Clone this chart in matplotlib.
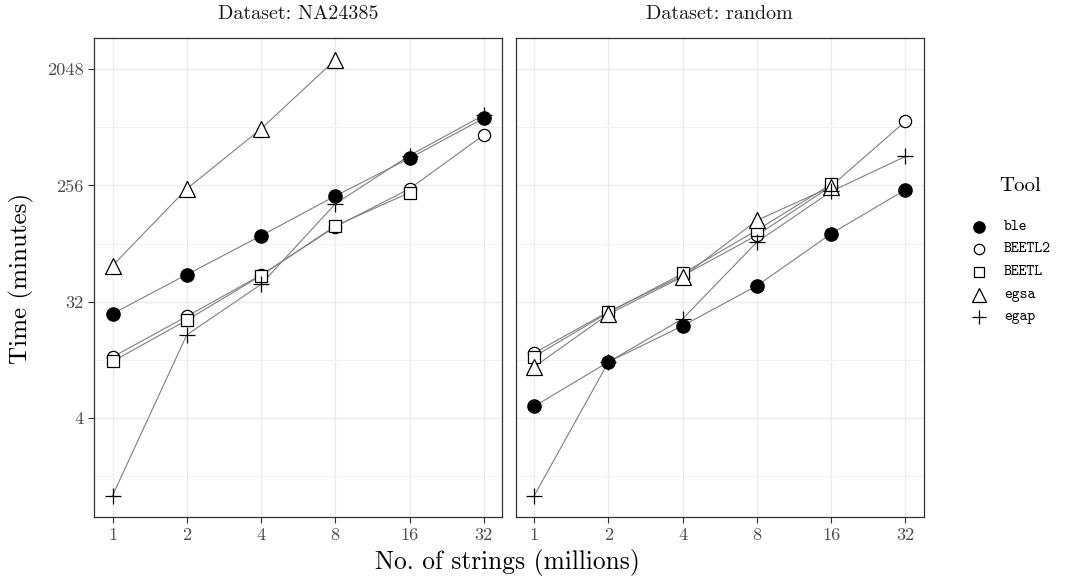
import numpy as np
import matplotlib
matplotlib.use("Agg")
import matplotlib.pyplot as plt

plt.rcParams['font.family'] = ['cmr10', 'DejaVu Serif']
plt.rcParams['axes.formatter.use_mathtext'] = True

# ---- data ----
x_vals = [1, 2, 4, 8, 16, 32]
tools = ['ble', 'BEETL2', 'BEETL', 'egsa', 'egap']
datasets = ['NA24385', 'random']

na_ble    = [25.8, 52, 104, 212, 416, 850]
na_beetl2 = [11.9, 24.6, 51.6, 122, 241, 630]
na_beetl  = [11.0, 23, 51, 124, 225]
na_egsa   = [61, 241, 703, 2420]
na_egap   = [1.0, 17.7, 43.6, 184, 437, 900]

rnd_ble    = [4.93, 10.9, 20.8, 42.6, 108, 237]
rnd_beetl2 = [12.8, 26.8, 51, 105, 253, 806]
rnd_beetl  = [12.0, 26.4, 53, 115, 261]
rnd_egsa   = [10.0, 25.6, 50, 137, 250]
rnd_egap   = [1.0, 10.9, 23.6, 93, 230, 430]

series = {
    'NA24385': [na_ble, na_beetl2, na_beetl, na_egsa, na_egap],
    'random':  [rnd_ble, rnd_beetl2, rnd_beetl, rnd_egsa, rnd_egap],
}

y_ticks = [4, 32, 256, 2048]
x_ticks = [1, 2, 4, 8, 16, 32]

# ---- styles ----
markers = {
    'ble':    dict(marker='o', mfc='black', mec='black', ms=9.5),
    'BEETL2': dict(marker='o', mfc='white', mec='black', ms=8.8, mew=0.9),
    'BEETL':  dict(marker='s', mfc='white', mec='black', ms=8.0, mew=0.9),
    'egsa':   dict(marker='^', mfc='white', mec='black', ms=11.5, mew=0.9),
    'egap':   dict(marker='+', mfc='none', mec='black', ms=12.0, mew=0.9),
}

W, H = 1076, 576
fig = plt.figure(figsize=(W / 100, H / 100), dpi=100)

def frac(l, t, r, b):
    return [l / W, 1 - b / H, (r - l) / W, (b - t) / H]

panel_px = [(94, 38, 502.3, 517.3), (515.7, 38, 924, 517.3)]

all_vals = [v for d in datasets for s in series[d] for v in s]
lmin, lmax = np.log2(min(all_vals)), np.log2(max(all_vals))
pad = 0.05 * (lmax - lmin)
ylim = (2 ** (lmin - pad), 2 ** (lmax + pad))
xl = np.log2(x_ticks)
xpad = 0.05 * (xl.max() - xl.min())
xlim = (2 ** (xl.min() - xpad), 2 ** (xl.max() + xpad))

grid_c = '#EBEBEB'
for i, (ds, px) in enumerate(zip(datasets, panel_px)):
    ax = fig.add_axes(frac(*px))
    ax.set_xscale('log', base=2)
    ax.set_yscale('log', base=2)
    ax.set_xlim(*xlim)
    ax.set_ylim(*ylim)
    for t in x_ticks:
        ax.axvline(t, color=grid_c, lw=1.0, zorder=0)
    for t in y_ticks:
        ax.axhline(t, color=grid_c, lw=1.0, zorder=0)
    ly = np.log2(y_ticks)
    minors = [2 ** (ly[0] - 1.5)] + [2 ** ((a + b) / 2) for a, b in zip(ly[:-1], ly[1:])]
    for t in minors:
        ax.axhline(t, color='#F2F2F2', lw=0.7, zorder=0)
    for tool, vals in zip(tools, series[ds]):
        xs = x_vals[:len(vals)]
        ax.plot(xs, vals, color='#7F7F7F', lw=0.8, zorder=2)
        ax.plot(xs, vals, ls='none', zorder=3, **markers[tool])
    ax.set_xticks(x_ticks)
    ax.set_xticklabels([str(t) for t in x_ticks])
    ax.minorticks_off()
    ax.set_yticks(y_ticks)
    ax.tick_params(axis='both', which='major', labelsize=13.2, colors='#333333',
                   labelcolor='#4D4D4D', length=4.5, width=0.8, pad=3)
    if i == 0:
        ax.set_yticklabels([str(t) for t in y_ticks])
    else:
        ax.set_yticklabels([])
        ax.tick_params(axis='y', length=0)
    for s in ax.spines.values():
        s.set_color('#333333')
        s.set_linewidth(0.9)
    cx = (px[0] + px[2]) / 2
    fig.text(cx / W, 1 - 19 / H, 'Dataset: ' + ds, fontsize=14.5, color='#1A1A1A',
             ha='center', va='baseline')

fig.text(21 / W, 1 - 278 / H, 'Time (minutes)', rotation=90, fontsize=18,
         ha='center', va='center')
fig.text(507 / W, 1 - 562 / H, 'No. of strings (millions)', fontsize=18.3,
         ha='center', va='center')

# ---- legend (drawn in a pixel-coordinate overlay) ----
lax = fig.add_axes([0, 0, 1, 1], facecolor='none')
lax.set_xlim(0, W)
lax.set_ylim(H, 0)
lax.axis('off')
lax.text(1020, 186, 'Tool', fontsize=15, ha='center', va='center')
leg_y0, leg_dy = 226.5, 22.7
for k, tool in enumerate(tools):
    y = leg_y0 + k * leg_dy
    st = dict(markers[tool])
    st['ms'] = st['ms'] * 0.85
    lax.plot([979], [y], ls='none', **st)
    lax.text(1004, y, tool, family='cmtt10', fontsize=10.8, ha='left', va='center')

fig.savefig('out.png', dpi=100)
